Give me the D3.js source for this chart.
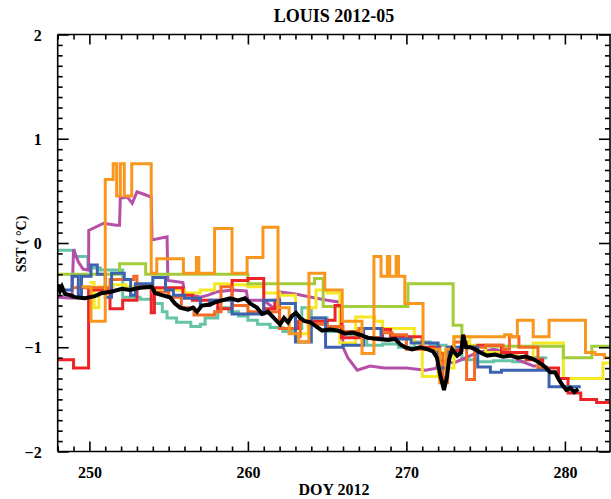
<!DOCTYPE html>
<html><head><meta charset="utf-8">
<script src="https://cdn.jsdelivr.net/npm/d3@7"></script>
<style>body{margin:0;background:#fff}svg{display:block}text{font-family:"Liberation Serif","Times New Roman",serif;font-weight:bold;fill:#000}</style>
</head><body>
<script>
const title = "LOUIS 2012-05";
const xLabel = "DOY 2012";
const yLabel = "SST ( \u00B0C)";
const xTicks = [250, 260, 270, 280];
const yTicks = [-2, -1, 0, 1, 2];

const tealSeries = [[248,-0.07],[249.05,-0.13],[249.9,-0.24],[250.7,-0.26],[252.1,-0.52],[253.2,-0.54],[254.1,-0.58],[254.6,-0.66],[254.9,-0.72],[255.5,-0.76],[256.4,-0.8],[257.0,-0.78],[257.3,-0.72],[258.1,-0.62],[258.8,-0.66],[259.4,-0.7],[260.0,-0.74],[260.6,-0.78],[261.4,-0.81],[262.2,-0.85],[262.8,-0.82],[263.4,-0.62],[264.0,-0.72],[265.0,-0.85],[266.5,-0.9],[267.5,-0.98],[268.5,-0.97],[269.5,-1.0],[270.5,-0.95],[271.5,-0.98],[272.5,-1.07],[273.5,-1.12],[274.5,-1.14],[275.5,-1.13],[276.7,-1.14],[277.5,-1.1],[278.8,-1.09]];
const purpleSeries = [[248,-0.52],[248.9,-0.53],[249.0,-0.06],[249.3,-0.18],[249.6,-0.25],[249.95,-0.26],[249.96,0.12],[250.9,0.19],[251.7,0.17],[251.9,0.17],[251.95,0.43],[252.4,0.44],[252.7,0.38],[253.0,0.49],[253.4,0.47],[253.9,0.44],[253.95,0.03],[254.9,0.06],[254.95,-0.36],[255.9,-0.38],[256.0,-0.48],[257.0,-0.52],[257.5,-0.5],[258.0,-0.47],[259.0,-0.45],[259.9,-0.46],[260.0,-0.55],[261.0,-0.55],[261.6,-0.62],[261.9,-0.62],[262.0,-0.47],[263.0,-0.49],[264.0,-0.52],[265.0,-0.55],[265.9,-0.57],[266.0,-1.0],[266.3,-1.1],[266.9,-1.22],[267.7,-1.18],[268.6,-1.2],[270.0,-1.2],[271.2,-1.22],[271.9,-1.2],[272.0,-1.12],[273.0,-1.15],[274.5,-1.05],[275.5,-1.02],[276.5,-1.05],[277.0,-1.12],[278.0,-1.18],[278.2,-1.18]];
const yellowSeries = [[250.0,-0.38],[250.3,-0.62],[250.6,-0.42],[251.5,-0.4],[252.3,-0.42],[253.0,-0.41],[254.0,-0.44],[255.5,-0.45],[256.0,-0.48],[257.0,-0.45],[257.9,-0.39],[258.7,-0.4],[260.0,-0.42],[261.0,-0.48],[262.0,-0.5],[263.0,-0.87],[263.8,-0.62],[264.3,-0.45],[265.0,-0.48],[265.8,-0.96],[266.8,-0.71],[268.0,-0.75],[268.5,-0.82],[270.5,-0.96],[271.0,-1.28],[272.0,-1.05],[272.5,-1.2],[273.0,-0.9],[274.0,-0.98],[275.0,-1.05],[276.0,-1.08],[277.0,-1.1],[278.0,-0.96],[279.25,-0.96],[279.9,-1.3],[282.4,-1.15],[283,-1.15]];
const limeSeries = [[248,-0.3],[251.9,-0.2],[253.55,-0.3],[260.0,-0.39],[264.2,-0.34],[264.75,-0.61],[270.1,-0.39],[272.95,-0.79],[273.5,-0.99],[279.9,-1.1],[281.7,-0.99],[283,-0.99]];
const redSeries = [[248,-1.12],[249.0,-1.2],[249.95,-0.45],[251.3,-0.63],[252.1,-0.55],[253.0,-0.42],[253.9,-0.67],[254.1,-0.43],[255.9,-0.5],[256.5,-0.55],[258.1,-0.63],[259.0,-0.36],[260.0,-0.34],[261.0,-0.63],[261.7,-0.55],[262.0,-0.82],[263.2,-0.75],[265.0,-0.74],[265.5,-0.6],[265.9,-0.91],[267.5,-0.91],[268.5,-0.83],[269.0,-0.9],[271.0,-1.0],[272.1,-1.29],[272.6,-1.03],[273.5,-1.0],[274.5,-0.98],[276.0,-1.05],[277.6,-1.12],[278.6,-1.2],[279.6,-1.3],[280.2,-1.44],[281.0,-1.5],[282.0,-1.53],[283,-1.57]];
const orangeRedSeries = [[248.9,-0.43],[251.3,-0.35],[252.8,-0.32],[253.0,-0.43],[254.0,-0.47],[255.0,-0.52],[255.8,-0.62],[256.6,-0.69],[257.9,-0.66],[258.3,-0.42],[259.0,-0.6],[260.0,-0.66],[261.5,-0.66],[262.0,-0.82],[263.0,-0.9],[263.3,-0.75],[264.0,-0.78],[265.0,-0.8],[266.0,-0.85],[267.0,-0.82],[268.5,-0.86],[269.1,-0.88],[270.0,-1.02],[271.9,-1.06],[272.3,-1.34],[272.6,-1.0],[273.0,-0.95],[273.8,-1.31],[274.3,-1.0],[275.0,-0.98],[276.1,-1.02],[276.5,-0.9],[277.1,-1.0],[278.3,-1.2],[279.0,-1.2]];
const blueSeries = [[248,-0.45],[248.9,-0.32],[249.3,-0.5],[249.5,-0.32],[250.1,-0.21],[250.5,-0.3],[251.0,-0.52],[251.4,-0.29],[252.2,-0.35],[252.6,-0.5],[252.9,-0.39],[254.0,-0.33],[254.8,-0.45],[255.3,-0.5],[256.0,-0.53],[257.0,-0.6],[257.6,-0.55],[259.0,-0.68],[261.0,-0.55],[262.0,-0.58],[263.0,-0.95],[264.0,-0.72],[264.9,-1.0],[266.0,-0.98],[267.3,-0.82],[268.4,-0.92],[270.3,-0.96],[271.0,-0.96],[272.0,-1.2],[272.6,-1.0],[274.5,-1.19],[275.3,-1.24],[276.0,-1.22],[279.0,-1.38],[281.0,-1.38]];
const orangeSeries = [[249.5,-0.42],[250.1,-0.75],[251.0,0.61],[251.5,0.76],[251.72,0.45],[251.95,0.76],[252.2,0.45],[252.67,0.76],[253.9,-0.29],[254.25,-0.15],[255.93,-0.29],[256.75,-0.14],[256.9,-0.29],[257.9,0.14],[259.0,-0.29],[259.95,-0.14],[260.95,0.15],[261.9,-0.62],[262.6,-0.87],[263.2,-0.95],[263.85,-0.29],[264.85,-0.45],[265.95,-0.75],[267.2,-1.06],[267.95,-0.13],[268.4,-0.32],[268.8,-0.13],[268.95,-0.32],[269.35,-0.13],[269.5,-0.32],[269.9,-0.58],[271.05,-1.02],[272.1,-1.34],[272.5,-1.02],[273.0,-0.9],[276.2,-0.88],[276.6,-0.9],[277.0,-0.74],[278.0,-0.9],[279.0,-0.74],[281.3,-1.05],[281.9,-1.07],[282.5,-1.1],[283,-1.12]];
const blackSeries = [[248.0,-0.40],[248.15,-0.46],[248.27,-0.42],[248.46,-0.49],[248.78,-0.50],[249.09,-0.52],[249.72,-0.53],[250.35,-0.51],[250.8,-0.48],[251.3,-0.47],[252.06,-0.44],[252.56,-0.45],[253.19,-0.43],[253.95,-0.42],[254.14,-0.48],[254.58,-0.5],[255.08,-0.52],[255.4,-0.58],[255.72,-0.62],[256.22,-0.64],[256.54,-0.62],[256.79,-0.66],[257.1,-0.6],[257.61,-0.59],[257.92,-0.57],[258.37,-0.55],[258.87,-0.53],[259.38,-0.55],[259.82,-0.53],[260.14,-0.58],[260.57,-0.62],[260.89,-0.68],[261.27,-0.66],[261.71,-0.73],[262.03,-0.78],[262.28,-0.72],[262.53,-0.76],[262.78,-0.7],[263.04,-0.67],[263.29,-0.72],[263.6,-0.75],[263.92,-0.76],[264.3,-0.8],[264.68,-0.84],[265.18,-0.83],[265.69,-0.84],[266.13,-0.87],[266.57,-0.86],[267.07,-0.88],[267.58,-0.91],[268.21,-0.92],[268.84,-0.93],[269.28,-0.92],[269.6,-0.97],[269.91,-1.0],[270.35,-1.02],[270.86,-1.0],[271.36,-1.02],[271.68,-1.04],[271.93,-1.1],[272.11,-1.25],[272.37,-1.41],[272.56,-1.28],[272.69,-1.12],[272.88,-1.02],[273.2,-1.08],[273.45,-1.05],[273.58,-0.88],[273.77,-1.0],[274.02,-1.0],[274.34,-1.02],[274.65,-1.05],[275.09,-1.08],[275.6,-1.07],[276.1,-1.09],[276.55,-1.08],[277.05,-1.1],[277.5,-1.09],[277.94,-1.11],[278.32,-1.14],[278.76,-1.19],[279.07,-1.24],[279.39,-1.24],[279.58,-1.3],[279.83,-1.36],[280.09,-1.41],[280.34,-1.39],[280.59,-1.43],[280.84,-1.4]];

const seriesList = [
  {data: tealSeries, color: "#66c4a6", step: true, w: 3},
  {data: purpleSeries, color: "#b64fa8", step: false, w: 3},
  {data: yellowSeries, color: "#f4e922", step: true, w: 3},
  {data: limeSeries, color: "#a3cc3a", step: true, w: 3},
  {data: redSeries, color: "#ec2327", step: true, w: 3},
  {data: orangeRedSeries, color: "#f26a24", step: true, w: 3},
  {data: blueSeries, color: "#3c62b0", step: true, w: 3},
  {data: orangeSeries, color: "#f8961e", step: true, w: 3},
  {data: blackSeries, color: "#000000", step: false, w: 4}
];

const W = 611, H = 499;
const L = 57.7, R = 610, T = 34.5, B = 451.5;
const x = d3.scaleLinear().domain([248, 283]).range([L, L + 35 * 15.85]);
const y = d3.scaleLinear().domain([-2, 2]).range([B, T]);

const svg = d3.select("body").append("svg").attr("width", W).attr("height", H);
svg.append("defs").append("clipPath").attr("id", "clip")
  .append("rect").attr("x", L).attr("y", T).attr("width", R - L).attr("height", B - T);

const g = svg.append("g").attr("clip-path", "url(#clip)");
seriesList.forEach(s => {
  const line = d3.line().x(d => x(d[0])).y(d => y(d[1]))
    .curve(s.step ? d3.curveStepAfter : d3.curveLinear);
  g.append("path").attr("d", line(s.data)).attr("fill", "none")
    .attr("stroke", s.color).attr("stroke-width", s.w).attr("stroke-linejoin", "miter");
});

// axes
const minorX = d3.range(248, 284, 1).filter(v => xTicks.indexOf(v) < 0);
const minorY = d3.range(-20, 21).map(v => v / 10).filter(v => Math.abs(v * 10 % 10) > 0.01);
const ax = svg.append("g").attr("stroke", "#000").attr("stroke-width", 1.6);
ax.append("line").attr("x1", L).attr("x2", R + 2).attr("y1", B).attr("y2", B);
ax.append("line").attr("x1", L).attr("x2", R + 2).attr("y1", T).attr("y2", T);
ax.append("line").attr("x1", L).attr("x2", L).attr("y1", T).attr("y2", B);
ax.append("line").attr("x1", R).attr("x2", R).attr("y1", T).attr("y2", B);
const bottomAxis = d3.axisBottom(x).tickValues(xTicks).tickSize(-10).tickFormat(d3.format("d")).tickPadding(15);
svg.append("g").attr("transform", `translate(0,${B})`).call(bottomAxis);
svg.append("g").attr("transform", `translate(0,${B})`).call(d3.axisBottom(x).tickValues(minorX).tickSize(-5).tickFormat(""));
svg.append("g").attr("transform", `translate(0,${T})`).call(d3.axisTop(x).tickValues(xTicks).tickSize(-10).tickFormat(""));
svg.append("g").attr("transform", `translate(0,${T})`).call(d3.axisTop(x).tickValues(minorX).tickSize(-5).tickFormat(""));
const gl = svg.append("g").attr("transform", `translate(${L},0)`).call(d3.axisLeft(y).tickValues(yTicks).tickSize(-11).tickFormat(d3.format("d")).tickPadding(16));
svg.append("g").attr("transform", `translate(${L},0)`).call(d3.axisLeft(y).tickValues(minorY).tickSize(-5).tickFormat(""));
svg.append("g").attr("transform", `translate(${R},0)`).call(d3.axisRight(y).tickValues(yTicks).tickSize(-11).tickFormat(""));
svg.append("g").attr("transform", `translate(${R},0)`).call(d3.axisRight(y).tickValues(minorY).tickSize(-5).tickFormat(""));
svg.selectAll(".domain").remove();
svg.selectAll(".tick line").attr("stroke", "#000").attr("stroke-width", 1.6);
svg.selectAll(".tick text").style("font-family", '"Liberation Serif", serif').style("font-weight", "bold").style("font-size", "16px").attr("fill", "#000");
gl.selectAll(".tick text").attr("dy", "0.35em");

svg.append("text").attr("x", 334).attr("y", 22).attr("text-anchor", "middle").style("font-size", "18px").text(title);
svg.append("text").attr("x", 334).attr("y", 495).attr("text-anchor", "middle").style("font-size", "16px").text(xLabel);
svg.append("text").attr("transform", "translate(26,244) rotate(-90)").attr("text-anchor", "middle").style("font-size", "14px").text(yLabel);
</script>
</body></html>
